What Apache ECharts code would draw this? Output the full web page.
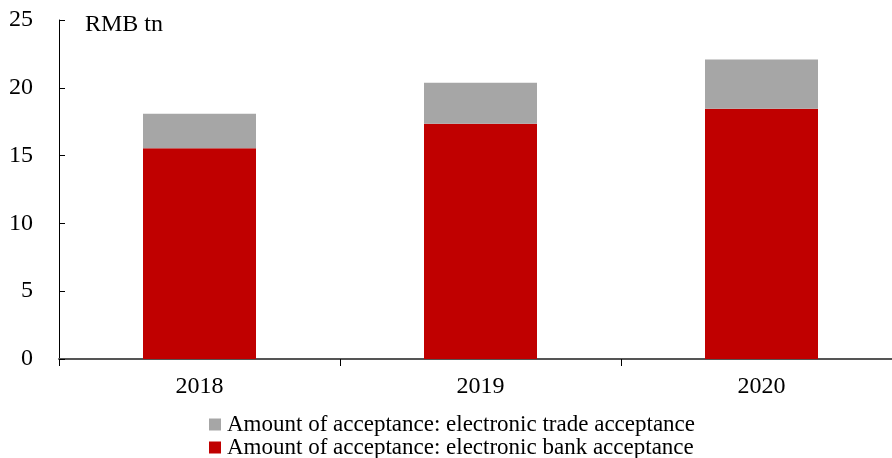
<!DOCTYPE html>
<html>
<head>
<meta charset="utf-8">
<script src="https://cdn.jsdelivr.net/npm/echarts@6/dist/echarts.min.js"></script>
<style>
  html, body { margin: 0; padding: 0; background: #fff; }
  #chart { width: 892px; height: 458px; }
</style>
</head>
<body>
<div id="chart"></div>
<script>
// Acceptance amounts by year, RMB trillion
const years = ['2018', '2019', '2020'];
const bankAcceptance = [15.54, 17.34, 18.45];
const tradeAcceptance = [2.54, 3.03, 3.64];
const yTicks = [0, 5, 10, 15, 20, 25];
const tradeName = 'Amount of acceptance: electronic trade acceptance';
const bankName = 'Amount of acceptance: electronic bank acceptance';

const serif = '"Liberation Serif", "Times New Roman", serif';
const chart = echarts.init(document.getElementById('chart'));

const legendBase = {
  left: 209,
  itemWidth: 12,
  itemHeight: 12,
  itemGap: 0,
  icon: 'rect',
  padding: 0,
  textStyle: { fontFamily: serif, fontSize: 23, color: '#000', padding: [0, 0, 0, 1] }
};

chart.setOption({
  backgroundColor: '#fff',
  animation: false,
  textStyle: { fontFamily: serif },
  grid: { left: 59, top: 20, width: 843, height: 339, containLabel: false, outerBoundsMode: 'none' },
  legend: [
    Object.assign({}, legendBase, { top: 413, data: [tradeName] }),
    Object.assign({}, legendBase, { top: 436, data: [bankName] })
  ],
  graphic: [{
    type: 'text',
    left: 85,
    top: 13,
    style: { text: 'RMB tn', fontFamily: serif, fontSize: 24, fill: '#000' }
  }],
  xAxis: {
    type: 'category',
    data: years,
    axisLine: { lineStyle: { color: '#555', width: 2 } },
    axisTick: { show: true, length: 7, lineStyle: { color: '#000' } },
    axisLabel: { fontFamily: serif, fontSize: 24, color: '#000', margin: 16 }
  },
  yAxis: {
    type: 'value',
    min: yTicks[0],
    max: yTicks[yTicks.length - 1],
    interval: 5,
    axisLine: { show: true, lineStyle: { color: '#000', width: 1 } },
    axisTick: { show: true, inside: true, length: 6, lineStyle: { color: '#000' } },
    axisLabel: { fontFamily: serif, fontSize: 24, color: '#000', margin: 26 },
    splitLine: { show: false }
  },
  series: [
    {
      name: bankName,
      type: 'bar',
      stack: 'total',
      data: bankAcceptance,
      barWidth: 113,
      itemStyle: { color: '#c00000' }
    },
    {
      name: tradeName,
      type: 'bar',
      stack: 'total',
      data: tradeAcceptance,
      barWidth: 113,
      itemStyle: { color: '#a6a6a6' }
    }
  ]
});
</script>
</body>
</html>
